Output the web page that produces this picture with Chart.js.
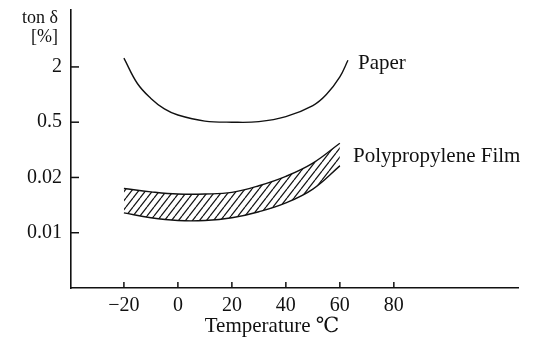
<!DOCTYPE html>
<html>
<head>
<meta charset="utf-8">
<script src="https://cdn.jsdelivr.net/npm/chart.js@4.4.1/dist/chart.umd.min.js"></script>
<style>
  html, body { margin: 0; padding: 0; background: #fff; }
  #wrap { width: 537px; height: 353px; position: relative; }
</style>
</head>
<body>
<div id="wrap"><canvas id="lossChart"></canvas></div>
<script>
// tick labels (y axis is schematic: one step per label)
const yTickPos = [1, 2, 3, 4];
const yTickLabels = ['0.01', '0.02', '0.5', '2'];
const xTicks = [-20, 0, 20, 40, 60, 80];

// Paper curve
const paperTemp = [-20, -15, -10, -5, 0, 10, 20, 30, 40, 50, 55, 60, 63];
const paperVal  = [4.16, 3.70, 3.43, 3.24, 3.13, 3.02, 3.0, 3.01, 3.1, 3.3, 3.5, 3.82, 4.12];

// Polypropylene film band (upper / lower edge)
const ppTemp  = [-20, -10, 0, 10, 20, 30, 40, 50, 60];
const ppUpper = [1.80, 1.74, 1.70, 1.70, 1.73, 1.85, 2.02, 2.26, 2.62];
const ppLower = [1.36, 1.27, 1.22, 1.22, 1.27, 1.38, 1.54, 1.79, 2.21];

const FONT = "'Liberation Serif', 'DejaVu Serif', serif";

function pts(xs, ys) {
  return xs.map((x, i) => ({ x: x, y: ys[i] }));
}

// hatch pattern ///
function hatch() {
  const w = 7, h = 9;
  const c = document.createElement('canvas');
  c.width = w; c.height = h;
  const g = c.getContext('2d');
  g.strokeStyle = '#111';
  g.lineWidth = 1.2;
  for (const dx of [-w, 0, w]) {
    g.beginPath();
    g.moveTo(dx, h);
    g.lineTo(dx + w, 0);
    g.stroke();
  }
  return g.createPattern(c, 'repeat');
}

// inward tick marks + free text
const extras = {
  id: 'extras',
  afterDraw(chart) {
    const ctx = chart.ctx;
    const xs = chart.scales.x, ys = chart.scales.y;
    const area = chart.chartArea;
    ctx.save();
    ctx.strokeStyle = '#111';
    ctx.lineWidth = 1.5;
    yTickPos.forEach(v => {
      const py = ys.getPixelForValue(v);
      ctx.beginPath();
      ctx.moveTo(area.left, py);
      ctx.lineTo(area.left + 8, py);
      ctx.stroke();
    });
    xTicks.forEach(v => {
      const px = xs.getPixelForValue(v);
      ctx.beginPath();
      ctx.moveTo(px, area.bottom);
      ctx.lineTo(px, area.bottom - 6);
      ctx.stroke();
    });

    ctx.fillStyle = '#111';
    ctx.font = '18px ' + FONT;
    ctx.textAlign = 'right';
    ctx.textBaseline = 'alphabetic';
    ctx.fillText('ton δ', 58, 23);
    ctx.fillText('[%]', 58, 42);

    ctx.font = '21px ' + FONT;
    ctx.textAlign = 'left';
    ctx.fillText('Paper', 358, 69);
    ctx.fillText('Polypropylene Film', 353, 162);

    ctx.textAlign = 'center';
    ctx.fillText('Temperature ℃', 272, 332);
    ctx.restore();
  }
};

document.addEventListener('DOMContentLoaded', function() {
  const ctx = document.getElementById('lossChart').getContext('2d');
  new Chart(ctx, {
    type: 'line',
    data: {
      datasets: [
        {
          label: 'Paper',
          data: pts(paperTemp, paperVal),
          borderColor: '#111',
          borderWidth: 1.4,
          pointRadius: 0,
          tension: 0.4,
          fill: false
        },
        {
          label: 'PP upper',
          data: pts(ppTemp, ppUpper),
          borderColor: '#111',
          borderWidth: 1.4,
          pointRadius: 0,
          tension: 0.4,
          backgroundColor: hatch(),
          fill: '+1'
        },
        {
          label: 'PP lower',
          data: pts(ppTemp, ppLower),
          borderColor: '#111',
          borderWidth: 1.4,
          pointRadius: 0,
          tension: 0.4,
          fill: false
        }
      ]
    },
    options: {
      responsive: true,
      maintainAspectRatio: false,
      animation: false,
      layout: { padding: { top: 0, right: 19, left: 0, bottom: 0 } },
      plugins: {
        legend: { display: false },
        tooltip: { enabled: false }
      },
      scales: {
        x: {
          type: 'linear',
          min: -39.6,
          max: 126,
          afterFit: s => { s.height = 65; s.paddingLeft = 0; s.paddingRight = 0; },
          afterBuildTicks: s => { s.ticks = xTicks.map(v => ({ value: v })); },
          grid: { display: false, drawTicks: false },
          border: { color: '#111', width: 1.6 },
          ticks: {
            color: '#111',
            padding: 6,
            maxRotation: 0,
            font: { family: FONT, size: 20 },
            callback: v => (v < 0 ? '\u2212' + Math.abs(v) : String(v))
          }
        },
        y: {
          type: 'linear',
          min: 0,
          max: 5.03,
          afterFit: s => { s.width = 71; s.paddingTop = 10; s.paddingBottom = 0; },
          afterBuildTicks: s => { s.ticks = yTickPos.map(v => ({ value: v })); },
          grid: { display: false, drawTicks: false },
          border: { color: '#111', width: 1.6 },
          ticks: {
            color: '#111',
            padding: 9,
            font: { family: FONT, size: 20 },
            callback: v => yTickLabels[yTickPos.indexOf(v)]
          }
        }
      }
    },
    plugins: [extras]
  });
});
</script>
</body>
</html>
